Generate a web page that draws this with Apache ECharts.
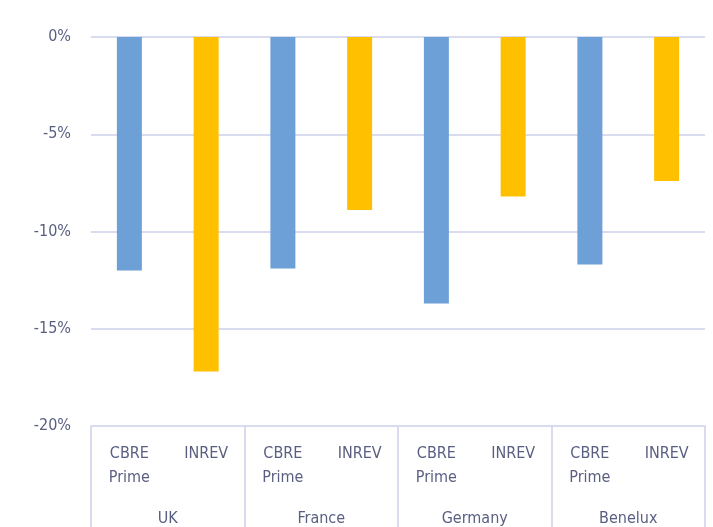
<!DOCTYPE html>
<html>
<head>
<meta charset="utf-8">
<script src="https://cdn.jsdelivr.net/npm/echarts@6/dist/echarts.min.js"></script>
<style>html,body{margin:0;padding:0;background:#fff}#c{width:713px;height:527px}</style>
</head>
<body>
<div id="c"></div>
<script>
var groups = ['UK', 'France', 'Germany', 'Benelux'];
var subLabels = ['CBRE\nPrime', 'INREV'];
var cbrePrime = [-12.0, -11.9, -13.7, -11.7];
var inrev = [-17.2, -8.9, -8.2, -7.4];
var yTicks = [0, -5, -10, -15, -20];

var cats = [];
var s1 = [], s2 = [];
groups.forEach(function (g, i) {
  cats.push(subLabels[0]); cats.push(subLabels[1]);
  s1.push(cbrePrime[i]); s1.push('-');
  s2.push('-'); s2.push(inrev[i]);
});

var font = '"Liberation Sans Narrow", "DejaVu Sans Condensed", "Roboto", sans-serif';
var txt = '#5a5f82';
var line = '#d9dcef';

var chart = echarts.init(document.getElementById('c'));
chart.setOption({
  animation: false,
  grid: { left: 91, right: 8, top: 37, bottom: 100 },
  xAxis: [{
    type: 'category',
    data: cats,
    position: 'bottom',
    axisLine: { show: false },
    axisTick: { show: false },
    axisLabel: { color: txt, fontFamily: font, fontSize: 16, lineHeight: 24, margin: 16, interval: 0 }
  }, {
    type: 'category',
    data: groups,
    position: 'bottom',
    boundaryGap: true,
    axisLine: { show: true, lineStyle: { color: line, width: 2 } },
    axisTick: { show: true, length: 110, lineStyle: { color: line, width: 2 } },
    axisLabel: { color: txt, fontFamily: font, fontSize: 16, margin: 85, interval: 0 }
  }],
  yAxis: {
    type: 'value',
    min: yTicks[yTicks.length - 1],
    max: yTicks[0],
    interval: 5,
    axisLine: { show: false },
    axisTick: { show: false },
    splitLine: { lineStyle: { color: line, width: 2 } },
    axisLabel: { color: txt, fontFamily: font, fontSize: 16, margin: 20, formatter: function (v) { return v + '%'; } }
  },
  series: [{
    type: 'bar', stack: 'a', data: s1, barWidth: 25,
    itemStyle: { color: '#6ca0d6' }
  }, {
    type: 'bar', stack: 'a', data: s2, barWidth: 25,
    itemStyle: { color: '#ffc000' }
  }]
});
</script>
</body>
</html>
